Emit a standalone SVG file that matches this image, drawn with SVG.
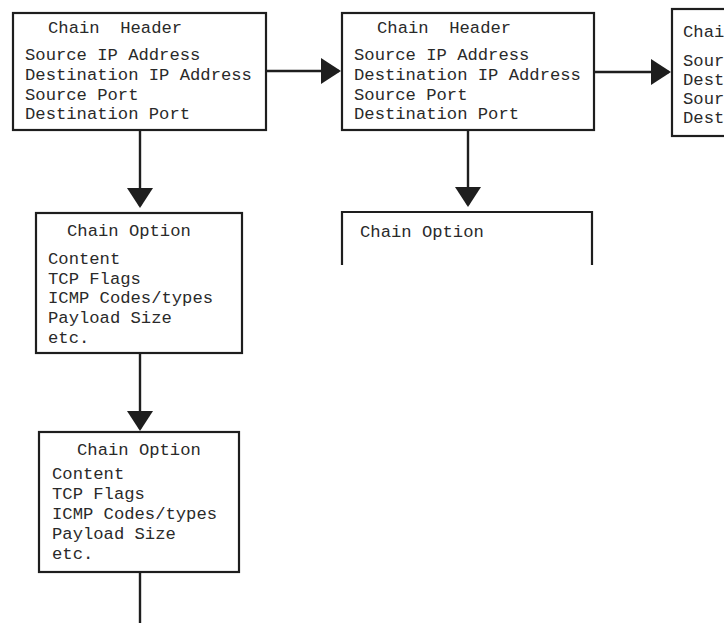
<svg xmlns="http://www.w3.org/2000/svg" width="724" height="623" viewBox="0 0 724 623">
<style>
.box{fill:#fff;stroke:#1e1e1e;stroke-width:2.2}
.open{fill:none;stroke:#1e1e1e;stroke-width:2.2}
.t{font-family:"Liberation Mono","Courier New",monospace;font-size:17.2px;fill:#2a2a2a;white-space:pre}
.ln{stroke:#1e1e1e;stroke-width:2.4;fill:none}
</style>
<defs>
<marker id="ah" markerUnits="userSpaceOnUse" viewBox="0 0 20 26" markerWidth="20" markerHeight="26" refX="18" refY="13" orient="auto">
<path d="M0,0 L20,13 L0,26 Z" fill="#1e1e1e"/>
</marker>
</defs>
<rect width="724" height="623" fill="#fff"/>
<g id="connectors">
<line class="ln" x1="267" y1="71" x2="339" y2="71" marker-end="url(#ah)"/>
<line class="ln" x1="595" y1="72" x2="669" y2="72" marker-end="url(#ah)"/>
<line class="ln" x1="140" y1="131" x2="140" y2="206" marker-end="url(#ah)"/>
<line class="ln" x1="140" y1="354" x2="140" y2="429" marker-end="url(#ah)"/>
<line class="ln" x1="468" y1="131" x2="468" y2="205" marker-end="url(#ah)"/>
<line class="ln" x1="140" y1="573" x2="140" y2="623"/>
</g>
<g id="header1">
<rect class="box" x="13" y="13" width="253" height="117"/>
<text class="t" x="48" y="33">Chain  Header</text>
<text class="t" x="25" y="60">Source IP Address</text>
<text class="t" x="25" y="80">Destination IP Address</text>
<text class="t" x="25" y="100">Source Port</text>
<text class="t" x="25" y="119">Destination Port</text>
</g>
<g id="header2">
<rect class="box" x="342" y="13" width="252" height="117"/>
<text class="t" x="377" y="33">Chain  Header</text>
<text class="t" x="354" y="60">Source IP Address</text>
<text class="t" x="354" y="80">Destination IP Address</text>
<text class="t" x="354" y="100">Source Port</text>
<text class="t" x="354" y="119">Destination Port</text>
</g>
<g id="header3">
<rect class="box" x="672" y="9" width="80" height="127"/>
<text class="t" x="683" y="37">Chai</text>
<text class="t" x="683" y="66">Sour</text>
<text class="t" x="683" y="85">Dest</text>
<text class="t" x="683" y="104">Sour</text>
<text class="t" x="683" y="123">Dest</text>
</g>
<g id="option1">
<rect class="box" x="36" y="213" width="206" height="140"/>
<text class="t" x="67" y="236">Chain Option</text>
<text class="t" x="48" y="264">Content</text>
<text class="t" x="48" y="284">TCP Flags</text>
<text class="t" x="48" y="303">ICMP Codes/types</text>
<text class="t" x="48" y="323">Payload Size</text>
<text class="t" x="48" y="343">etc.</text>
</g>
<g id="option2">
<rect class="box" x="39" y="432" width="200" height="140"/>
<text class="t" x="77" y="455">Chain Option</text>
<text class="t" x="52" y="479">Content</text>
<text class="t" x="52" y="499">TCP Flags</text>
<text class="t" x="52" y="519">ICMP Codes/types</text>
<text class="t" x="52" y="539">Payload Size</text>
<text class="t" x="52" y="559">etc.</text>
</g>
<g id="option3">
<path class="open" d="M342,265 V212 H592 V265"/>
<text class="t" x="360" y="237">Chain Option</text>
</g>
</svg>
